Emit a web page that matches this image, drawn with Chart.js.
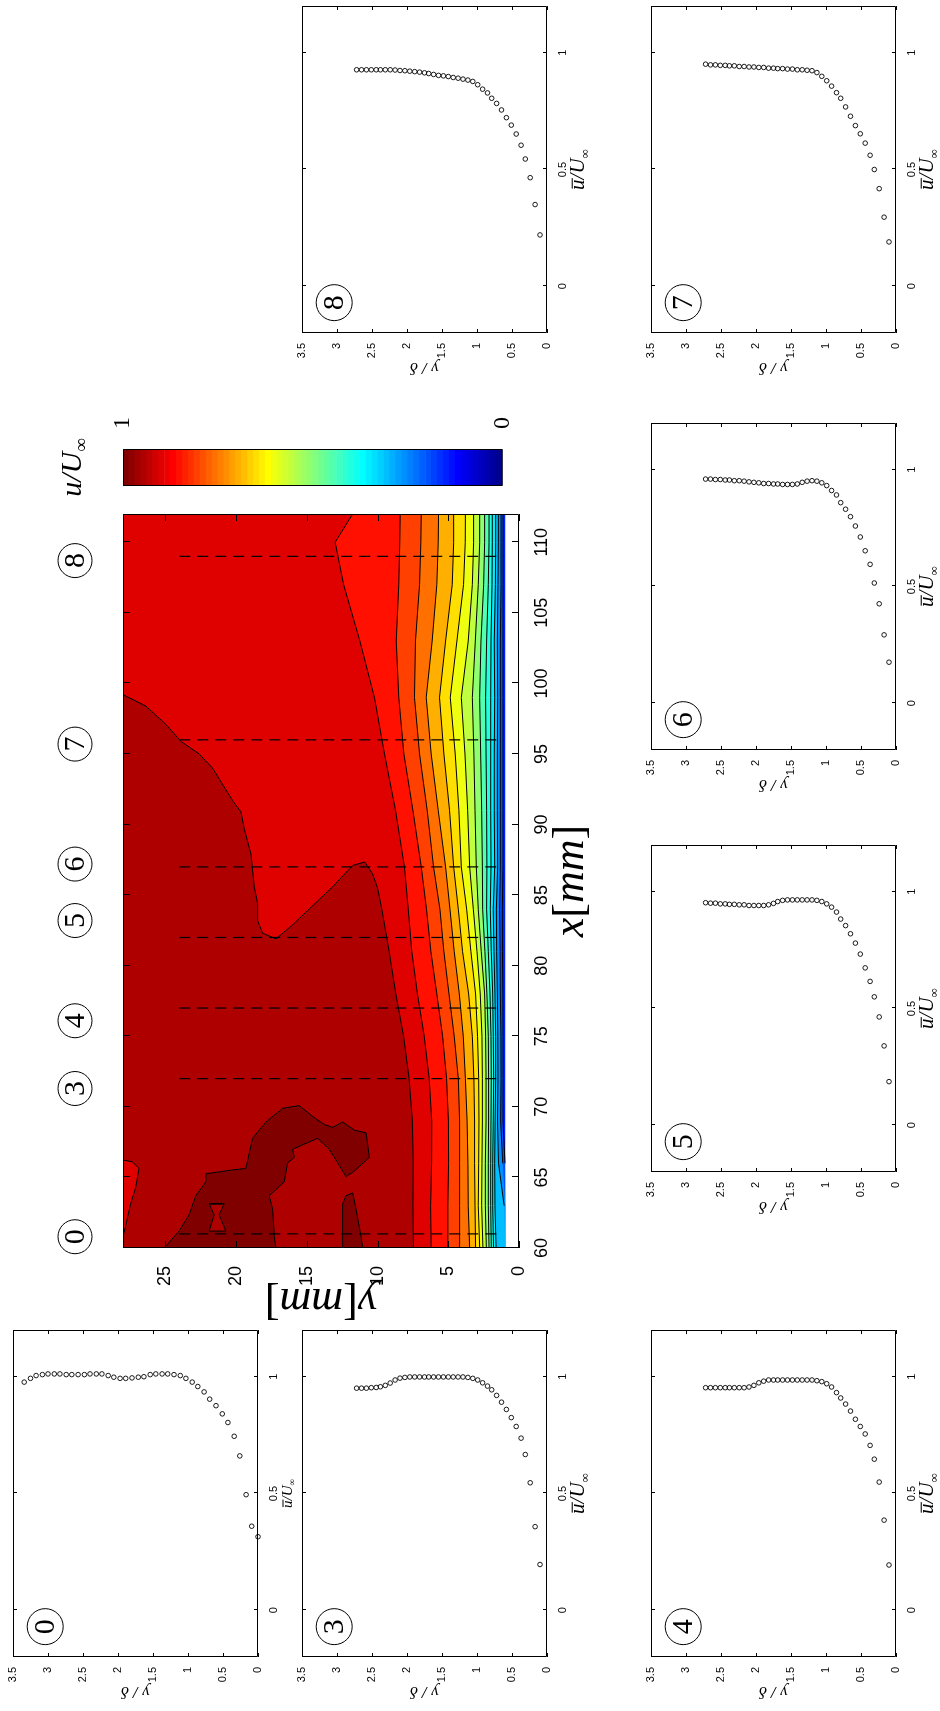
<!DOCTYPE html>
<html>
<head>
<meta charset="utf-8">
<script src="https://cdn.jsdelivr.net/npm/chart.js@4.4.0/dist/chart.umd.min.js"></script>
<style>
html, body { margin: 0; padding: 0; background: #fff; overflow: hidden; width: 940px; height: 1711px; }
/* the figure is drawn in landscape and turned a quarter to fit the page */
#page { position: absolute; left: 0; top: 1711px; width: 1711px; height: 940px; transform-origin: 0 0; transform: rotate(-90deg); }
#page canvas { position: absolute; }
</style>
</head>
<body>
<div id="page"></div>
<script>
// ---- profile data (u/U_inf against y/delta) ----
const yDelta0 = [3.34, 3.25, 3.17, 3.08, 3.00, 2.91, 2.83, 2.74, 2.66, 2.57, 2.48, 2.40, 2.31, 2.23, 2.14, 2.06, 1.97, 1.89, 1.80, 1.71,
                 1.63, 1.54, 1.46, 1.37, 1.29, 1.20, 1.11, 1.03, 0.94, 0.86, 0.77, 0.69, 0.60, 0.51, 0.43, 0.34, 0.26, 0.17, 0.09, 0.00];
const u0 = [0.977, 0.993, 1.005, 1.009, 1.012, 1.012, 1.012, 1.009, 1.009, 1.009, 1.009, 1.012, 1.012, 1.012, 1.005, 0.998, 0.993, 0.993, 0.995, 0.998,
            1.000, 1.009, 1.012, 1.012, 1.012, 1.009, 1.005, 0.993, 0.977, 0.958, 0.935, 0.904, 0.876, 0.841, 0.804, 0.745, 0.661, 0.495, 0.360, 0.315];

const yDeltaBL = [2.72, 2.65, 2.58, 2.51, 2.44, 2.38, 2.31, 2.24, 2.17, 2.10, 2.03, 1.96, 1.89, 1.82, 1.75, 1.69, 1.62, 1.55, 1.48, 1.41,
                  1.34, 1.27, 1.20, 1.13, 1.06, 0.99, 0.92, 0.85, 0.79, 0.72, 0.65, 0.58, 0.51, 0.44, 0.37, 0.31, 0.24, 0.17, 0.10];
const u3 = [0.951, 0.951, 0.951, 0.953, 0.954, 0.957, 0.963, 0.973, 0.986, 0.994, 0.997, 0.999, 0.999, 0.999, 0.999, 0.999, 0.999, 0.999, 0.999, 0.999,
            0.999, 0.999, 0.999, 0.997, 0.993, 0.986, 0.974, 0.960, 0.944, 0.920, 0.891, 0.860, 0.825, 0.787, 0.737, 0.667, 0.546, 0.358, 0.196];
const u4 = [0.953, 0.953, 0.953, 0.953, 0.953, 0.953, 0.953, 0.953, 0.953, 0.956, 0.963, 0.974, 0.981, 0.986, 0.986, 0.986, 0.986, 0.986, 0.986, 0.986,
            0.986, 0.986, 0.986, 0.983, 0.979, 0.970, 0.956, 0.932, 0.909, 0.883, 0.853, 0.818, 0.787, 0.755, 0.706, 0.647, 0.549, 0.386, 0.194];
const u5 = [0.953, 0.951, 0.951, 0.948, 0.948, 0.946, 0.946, 0.944, 0.944, 0.941, 0.941, 0.941, 0.941, 0.944, 0.950, 0.958, 0.963, 0.965, 0.965, 0.965,
            0.965, 0.965, 0.965, 0.963, 0.958, 0.948, 0.934, 0.913, 0.883, 0.855, 0.820, 0.780, 0.733, 0.674, 0.616, 0.550, 0.464, 0.340, 0.187];
const u6 = [0.960, 0.960, 0.958, 0.958, 0.956, 0.956, 0.953, 0.953, 0.951, 0.948, 0.946, 0.944, 0.941, 0.941, 0.939, 0.939, 0.937, 0.937, 0.937, 0.939,
            0.946, 0.951, 0.953, 0.951, 0.944, 0.932, 0.911, 0.892, 0.859, 0.831, 0.799, 0.759, 0.712, 0.653, 0.595, 0.515, 0.426, 0.293, 0.176];
const u7 = [0.951, 0.948, 0.948, 0.946, 0.946, 0.944, 0.944, 0.941, 0.941, 0.939, 0.939, 0.937, 0.937, 0.934, 0.934, 0.932, 0.932, 0.930, 0.930, 0.927,
            0.927, 0.925, 0.923, 0.915, 0.899, 0.880, 0.857, 0.829, 0.805, 0.768, 0.728, 0.688, 0.653, 0.613, 0.561, 0.500, 0.418, 0.296, 0.190];
const u8 = [0.927, 0.927, 0.927, 0.927, 0.927, 0.927, 0.927, 0.927, 0.926, 0.924, 0.923, 0.921, 0.919, 0.917, 0.914, 0.911, 0.907, 0.903, 0.901, 0.898,
            0.894, 0.891, 0.887, 0.883, 0.877, 0.863, 0.844, 0.828, 0.805, 0.783, 0.755, 0.722, 0.690, 0.652, 0.604, 0.545, 0.465, 0.350, 0.220];

const uTicks = [0, 0.5, 1];
const yDeltaTicks = [0, 0.5, 1, 1.5, 2, 2.5, 3, 3.5];

// ---- contour field: height y[mm] of each u/U_inf level at stations x[mm] ----
const contourX = [60, 63, 66, 69, 72, 75, 78, 81, 84, 87, 91, 95, 99, 103, 107, 110, 112];
const levelValues = [0.2, 0.25, 0.3, 0.35, 0.4, 0.45, 0.5, 0.55, 0.6, 0.65, 0.7, 0.75, 0.8, 0.85, 0.9];
const lev20 = [0.97, 0.97, 0.99, 1.13, 1.13, 1.13, 1.14, 1.17, 1.18, 1.13, 1.13, 1.13, 1.13, 1.13, 1.13, 1.13, 1.13];
const lev25 = [0.97, 0.97, 1.15, 1.30, 1.27, 1.28, 1.32, 1.34, 1.37, 1.32, 1.32, 1.32, 1.32, 1.32, 1.27, 1.27, 1.27];
const lev30 = [0.97, 1.05, 1.45, 1.52, 1.49, 1.50, 1.53, 1.58, 1.60, 1.51, 1.53, 1.53, 1.51, 1.53, 1.49, 1.46, 1.46];
const lev35 = [1.62, 1.70, 1.72, 1.69, 1.65, 1.65, 1.70, 1.77, 1.82, 1.72, 1.75, 1.75, 1.72, 1.75, 1.67, 1.65, 1.65];
const lev40 = [1.80, 1.86, 1.86, 1.82, 1.79, 1.82, 1.86, 1.96, 2.03, 1.98, 2.00, 2.00, 2.00, 1.98, 1.91, 1.89, 1.89];
const lev45 = [1.96, 2.00, 2.00, 1.98, 1.96, 1.98, 2.05, 2.17, 2.29, 2.27, 2.29, 2.33, 2.36, 2.29, 2.17, 2.12, 2.12];
const lev50 = [2.12, 2.17, 2.17, 2.15, 2.15, 2.17, 2.27, 2.41, 2.57, 2.59, 2.64, 2.71, 2.78, 2.69, 2.50, 2.43, 2.43];
const lev55 = [2.31, 2.38, 2.38, 2.33, 2.33, 2.36, 2.43, 2.67, 2.88, 3.02, 3.11, 3.19, 3.30, 3.09, 2.88, 2.78, 2.78];
const lev60 = [2.55, 2.64, 2.62, 2.59, 2.59, 2.62, 2.74, 2.97, 3.23, 3.49, 3.63, 3.82, 4.08, 3.59, 3.30, 3.21, 3.21];
const lev65 = [2.78, 2.88, 2.85, 2.83, 2.85, 2.93, 3.07, 3.40, 3.70, 4.08, 4.25, 4.51, 4.86, 4.39, 3.92, 3.80, 3.79];
const lev70 = [3.07, 3.11, 3.14, 3.14, 3.19, 3.30, 3.56, 3.99, 4.29, 4.62, 4.91, 5.31, 5.62, 5.19, 4.72, 4.62, 4.62];
const lev75 = [3.49, 3.59, 3.61, 3.67, 3.79, 3.94, 4.22, 4.58, 4.88, 5.19, 5.71, 6.21, 6.56, 6.14, 5.81, 5.71, 5.69];
const lev80 = [4.20, 4.20, 4.20, 4.20, 4.29, 4.58, 4.95, 5.31, 5.59, 6.04, 6.49, 7.03, 7.39, 7.32, 7.03, 6.94, 6.91];
const lev85 = [5.03, 5.03, 4.98, 4.99, 5.12, 5.40, 5.81, 6.23, 6.54, 6.91, 7.50, 8.14, 8.50, 8.68, 8.50, 8.43, 8.40];
const lev90 = [6.21, 6.25, 6.18, 6.17, 6.35, 6.70, 7.18, 7.58, 7.83, 8.10, 8.73, 9.51, 10.22, 11.25, 12.40, 13.00, 11.76];
const levelLines = [lev20, lev25, lev30, lev35, lev40, lev45, lev50, lev55, lev60, lev65, lev70, lev75, lev80, lev85, lev90];
const wallEdge = 0.97;   // first measured height above the wall

// outer region u >= 0.95
const hi95X = [60, 63, 66, 69, 72, 75, 78, 81, 84, 85.5, 86.5, 87.35, 87.1, 85.6, 82.9, 81.9, 82.3, 83.2, 84.4, 85.6,
               87.9, 88.8, 89.7, 90.9, 91.7, 94.0, 95.0, 95.9, 97.1, 98.4, 99.2, 60];
const hi95Y = [7.46, 7.50, 7.48, 7.54, 7.77, 8.16, 8.71, 9.18, 9.70, 10.0, 10.35, 10.9, 11.76, 13.17, 16.0, 17.18, 18.13, 18.48, 18.48, 18.72,
               18.95, 19.19, 19.43, 19.66, 20.25, 21.67, 22.61, 23.91, 24.97, 26.39, 28.0, 28.0];
// small pocket u < 0.95 in the top corner
const pocketX = [60.81, 61.58, 63.13, 64.29, 65.64, 66.11, 66.23];
const pocketY = [28.0, 27.81, 27.46, 27.10, 26.87, 27.34, 28.0];
// regions u >= 1
const top100X = [60, 61.20, 62.36, 63.71, 64.68, 65.26, 65.53, 65.64, 67.77, 68.93, 69.90, 70.09, 69.32, 68.74, 68.55, 68.93,
                 68.35, 68.16, 66.42, 65.45, 65.06, 65.84, 67.00, 67.77, 67.00, 66.42, 66.03, 64.68, 63.71, 62.75, 60.81, 60];
const top100Y = [25.09, 24.03, 23.32, 22.85, 22.14, 22.14, 20.26, 19.31, 18.84, 17.89, 16.71, 15.53, 14.59, 13.76, 13.17, 12.47,
                 11.64, 10.81, 10.58, 11.64, 12.23, 12.70, 13.41, 14.24, 16.01, 15.89, 16.36, 16.60, 17.66, 17.42, 17.30, 17.19];
const leg100X = [60, 63.13, 63.71, 63.90, 62.75, 60.81, 60];
const leg100Y = [12.47, 12.47, 12.23, 11.76, 11.52, 11.17, 11.05];
const hole95X = [63.13, 63.13, 62.36, 61.2, 61.2, 62.36, 63.13];
const hole95Y = [21.91, 20.85, 21.2, 20.73, 21.91, 21.55, 21.91];

const profileX = [61, 72, 77, 82, 87, 96, 109];
const profileSpan = [1.6, 24.5];
const profileTags = ['0', '3', '4', '5', '6', '7', '8'];
const tagX = [60.8, 71.3, 76.1, 83.2, 87.2, 95.7, 108.7];
const xmmTicks = [60, 65, 70, 75, 80, 85, 90, 95, 100, 105, 110];
const ymmTicks = [0, 5, 10, 15, 20, 25];

// ---- styling helpers ----
const SANS = "'Liberation Sans', Arial, sans-serif";
const SERIF = "'Liberation Serif', 'Times New Roman', serif";
Chart.defaults.font.family = SANS;
Chart.defaults.color = '#000';

function jetU(k) {
    if (k < 1 || k > 47) return 0;
    if (k <= 16) return k / 16;
    if (k <= 31) return 1;
    return (48 - k) / 16;
}
function jet64(i) {
    const c = [jetU(i - 24), jetU(i - 8), jetU(i + 8)].map(v => Math.round(v * 255));
    return 'rgb(' + c.join(',') + ')';
}
function levelColor(v) {
    return jet64(Math.min(64, Math.floor(v * 64 + 1e-9) + 1));
}
function zip(xs, ys) {
    return xs.map((x, i) => ({x: x, y: ys[i]}));
}
function addCanvas(left, top, w, h) {
    const c = document.createElement('canvas');
    c.width = w; c.height = h;
    c.style.left = left + 'px'; c.style.top = top + 'px';
    c.style.width = w + 'px'; c.style.height = h + 'px';
    document.getElementById('page').appendChild(c);
    return c;
}
function fixedTicks(list) {
    return s => { s.ticks = list.map(v => ({value: v})); };
}

// text made of runs: {t, italic, k (size factor), dy (shift), bar (overline)}
function drawRuns(ctx, runs, size, cx, cy, rot) {
    ctx.save();
    ctx.translate(cx, cy);
    if (rot) ctx.rotate(rot);
    ctx.fillStyle = '#000';
    ctx.textAlign = 'left';
    ctx.textBaseline = 'alphabetic';
    const fontOf = r => (r.italic ? 'italic ' : '') + Math.round(size * (r.k || 1)) + 'px ' + SERIF;
    let total = 0;
    const widths = runs.map(r => { ctx.font = fontOf(r); const w = ctx.measureText(r.t).width; total += w; return w; });
    let x = -total / 2;
    const base = size * 0.3;
    runs.forEach((r, i) => {
        ctx.font = fontOf(r);
        ctx.fillText(r.t, x, base + (r.dy || 0) * size);
        if (r.bar) ctx.fillRect(x + size * 0.06, base - size * 0.6, widths[i], Math.max(1, size * 0.05));
        x += widths[i];
    });
    ctx.restore();
}
const uBarTitle = [{t: 'u', italic: true, bar: true}, {t: '/U', italic: true}, {t: '∞', k: 0.62, dy: 0.2}];

// box round the plot area, with inward ticks on all four sides
function framePlugin(len) {
    return {
        id: 'frame',
        afterDatasetsDraw(chart) {
            const {ctx, chartArea: a} = chart;
            ctx.save();
            ctx.strokeStyle = '#000';
            ctx.lineWidth = 1;
            ctx.beginPath();
            if (len) {
                const sx = chart.scales.x, sy = chart.scales.y;
                sx.ticks.forEach(t => {
                    const p = Math.round(sx.getPixelForValue(t.value)) + 0.5;
                    ctx.moveTo(p, a.bottom); ctx.lineTo(p, a.bottom - len);
                    ctx.moveTo(p, a.top); ctx.lineTo(p, a.top + len);
                });
                sy.ticks.forEach(t => {
                    const p = Math.round(sy.getPixelForValue(t.value)) + 0.5;
                    ctx.moveTo(a.left, p); ctx.lineTo(a.left + len, p);
                    ctx.moveTo(a.right, p); ctx.lineTo(a.right - len, p);
                });
            }
            ctx.rect(a.left + 0.5, a.top + 0.5, a.width - 1, a.height - 1);
            ctx.stroke();
            ctx.restore();
        }
    };
}

// circled numbers; y may be a data value or a pixel distance above the plot
function circlePlugin(items) {
    return {
        id: 'circles',
        afterDraw(chart) {
            const ctx = chart.ctx;
            items.forEach(it => {
                const x = chart.scales.x.getPixelForValue(it.x);
                const y = it.above != null ? chart.chartArea.top - it.above : chart.scales.y.getPixelForValue(it.y);
                ctx.save();
                ctx.strokeStyle = '#000';
                ctx.lineWidth = 1;
                ctx.beginPath();
                ctx.arc(x, y, it.r, 0, Math.PI * 2);
                ctx.stroke();
                ctx.fillStyle = '#000';
                ctx.font = it.size + 'px ' + SERIF;
                ctx.textAlign = 'center';
                ctx.textBaseline = 'middle';
                ctx.fillText(it.text, x, y + 1);
                ctx.restore();
            });
        }
    };
}

// axis names written under / beside the plot area
function titlePlugin(items) {
    return {
        id: 'titles',
        afterDraw(chart) {
            const a = chart.chartArea;
            items.forEach(it => {
                const cx = it.side === 'left' ? a.left - it.gap : (a.left + a.right) / 2;
                const cy = it.side === 'left' ? (a.top + a.bottom) / 2 : (it.side === 'top' ? a.top - it.gap : a.bottom + it.gap);
                drawRuns(chart.ctx, it.runs, it.size, cx, cy, it.side === 'left' ? -Math.PI / 2 : 0);
            });
        }
    };
}

// ---- the seven profile panels ----
const panelLayout = [
    {u: u0, y: yDelta0, tag: '0', left: 54, top: 13, small: true},
    {u: u3, y: yDeltaBL, tag: '3', left: 54, top: 302},
    {u: u4, y: yDeltaBL, tag: '4', left: 54, top: 651},
    {u: u5, y: yDeltaBL, tag: '5', left: 539, top: 651},
    {u: u6, y: yDeltaBL, tag: '6', left: 961, top: 651},
    {u: u7, y: yDeltaBL, tag: '7', left: 1378, top: 651},
    {u: u8, y: yDeltaBL, tag: '8', left: 1378, top: 302}
];

function profilePanel(p) {
    const W = 327, H = 245, L = 45, T = 12, R = 8, B = 44;
    const c = addCanvas(p.left - L, p.top - T, W + L + R, H + T + B);
    new Chart(c, {
        type: 'scatter',
        data: {
            datasets: [{
                data: zip(p.u, p.y),
                pointStyle: 'circle',
                pointRadius: 2.3,
                borderWidth: 0.9,
                borderColor: '#000',
                backgroundColor: 'rgba(0,0,0,0)',
                clip: false
            }]
        },
        options: {
            responsive: false,
            animation: false,
            events: [],
            layout: {padding: {top: T, right: R, left: 0, bottom: 0}},
            plugins: {legend: {display: false}, tooltip: {enabled: false}},
            scales: {
                x: {
                    type: 'linear', min: -0.2, max: 1.2,
                    afterBuildTicks: fixedTicks(uTicks),
                    afterFit: s => { s.height = B; },
                    grid: {display: false}, border: {display: false},
                    ticks: {font: {size: 11}, padding: 1, maxRotation: 0, callback: v => String(v)}
                },
                y: {
                    type: 'linear', min: 0, max: 3.5,
                    afterBuildTicks: fixedTicks(yDeltaTicks),
                    afterFit: s => { s.width = L; },
                    grid: {display: false}, border: {display: false},
                    ticks: {font: {size: 11}, padding: 2, callback: v => String(v)},
                    title: {display: true, text: 'y / δ', font: {family: SERIF, size: 17, style: 'italic'}, padding: 0}
                }
            }
        },
        plugins: [
            framePlugin(4),
            circlePlugin([{x: -0.07, y: 3.04, r: 18, size: 30, text: p.tag}]),
            titlePlugin([{side: 'bottom', gap: p.small ? 29 : 31, size: p.small ? 15 : 21, runs: uBarTitle}])
        ]
    });
}
panelLayout.forEach(profilePanel);

// ---- contour map ----
(function () {
    const W = 734, H = 396, L = 80, T = 73, R = 6, B = 77;
    const boxLeft = 463, boxTop = 123;
    const xMin = 60, xMax = 112, yMax = 28;
    const c = addCanvas(boxLeft - L, boxTop - T, W + L + R, H + T + B);

    const sets = [];
    function region(points, color, outlined) {
        sets.push({
            data: points, showLine: true, fill: 'shape',
            backgroundColor: color,
            borderColor: outlined ? '#000' : 'rgba(0,0,0,0)',
            borderWidth: outlined ? 1 : 0,
            pointRadius: 0, tension: 0
        });
    }
    region([{x: xMin, y: wallEdge}, {x: xMax, y: wallEdge}, {x: xMax, y: yMax}, {x: xMin, y: yMax}], levelColor(0.15));
    levelValues.forEach((v, k) => {
        region(zip(contourX, levelLines[k]).concat([{x: xMax, y: yMax}, {x: xMin, y: yMax}]), levelColor(v));
    });
    region(zip(hi95X, hi95Y), levelColor(0.95), true);
    region(zip(pocketX, pocketY), levelColor(0.9), true);
    region(zip(top100X, top100Y), levelColor(1.0), true);
    region(zip(leg100X, leg100Y), levelColor(1.0), true);
    region(zip(hole95X, hole95Y), levelColor(0.95), true);
    levelLines.forEach(ys => {
        sets.push({
            data: contourX.map((x, i) => ({x: x, y: ys[i] > wallEdge ? ys[i] : null})),
            showLine: true, fill: false, borderColor: '#000', borderWidth: 1, pointRadius: 0, tension: 0
        });
    });
    profileX.forEach(px => {
        sets.push({
            data: [{x: px, y: profileSpan[0]}, {x: px, y: profileSpan[1]}],
            showLine: true, fill: false, borderColor: '#000', borderWidth: 1.2, borderDash: [11, 7], pointRadius: 0
        });
    });
    sets.forEach((d, i) => { d.order = -i; });

    new Chart(c, {
        type: 'scatter',
        data: {datasets: sets},
        options: {
            responsive: false,
            animation: false,
            events: [],
            layout: {padding: {top: T, right: R, left: 0, bottom: 0}},
            plugins: {legend: {display: false}, tooltip: {enabled: false}},
            scales: {
                x: {
                    type: 'linear', min: xMin, max: xMax,
                    afterBuildTicks: fixedTicks(xmmTicks),
                    afterFit: s => { s.height = B; },
                    grid: {display: false}, border: {display: false},
                    ticks: {font: {size: 18}, padding: 4, maxRotation: 0, callback: v => String(v)}
                },
                y: {
                    type: 'linear', min: 0, max: yMax,
                    afterBuildTicks: fixedTicks(ymmTicks),
                    afterFit: s => { s.width = L; },
                    grid: {display: false}, border: {display: false},
                    ticks: {font: {size: 18}, padding: 10, callback: v => String(v)}
                }
            }
        },
        plugins: [
            framePlugin(7),
            circlePlugin(tagX.map((x, i) => ({x: x, above: 48, r: 17, size: 30, text: profileTags[i]}))),
            titlePlugin([
                {side: 'bottom', gap: 51, size: 44, runs: [{t: 'x', italic: true}, {t: '['}, {t: 'mm', italic: true}, {t: ']'}]},
                {side: 'left', gap: 54, size: 44, runs: [{t: 'y', italic: true}, {t: '['}, {t: 'mm', italic: true}, {t: ']'}]}
            ])
        ]
    });
})();

// ---- colour bar ----
(function () {
    const W = 37, H = 396, L = 10, T = 83, R = 60, B = 10;
    const c = addCanvas(1225 - L, 123 - T, W + L + R, H + T + B);
    const swatches = [];
    for (let i = 1; i <= 64; i++) {
        swatches.push({
            data: [[(i - 1) / 64, i / 64]],
            backgroundColor: jet64(i), borderWidth: 0,
            barPercentage: 1, categoryPercentage: 1, grouped: false
        });
    }
    new Chart(c, {
        type: 'bar',
        data: {labels: ['u'], datasets: swatches},
        options: {
            responsive: false,
            animation: false,
            events: [],
            layout: {padding: {top: T, right: 0, left: L, bottom: B}},
            plugins: {legend: {display: false}, tooltip: {enabled: false}},
            scales: {
                x: {display: false},
                y: {
                    position: 'right', min: 0, max: 1,
                    afterBuildTicks: fixedTicks([0, 1]),
                    afterFit: s => { s.width = R; },
                    grid: {display: false}, border: {display: false},
                    ticks: {font: {family: SERIF, size: 24}, padding: 12, callback: v => String(v)}
                }
            }
        },
        plugins: [
            framePlugin(0),
            titlePlugin([{side: 'top', gap: 51, size: 30, runs: [{t: 'u/U', italic: true}, {t: '∞', k: 0.62, dy: 0.2}]}])
        ]
    });
})();
</script>
</body>
</html>
